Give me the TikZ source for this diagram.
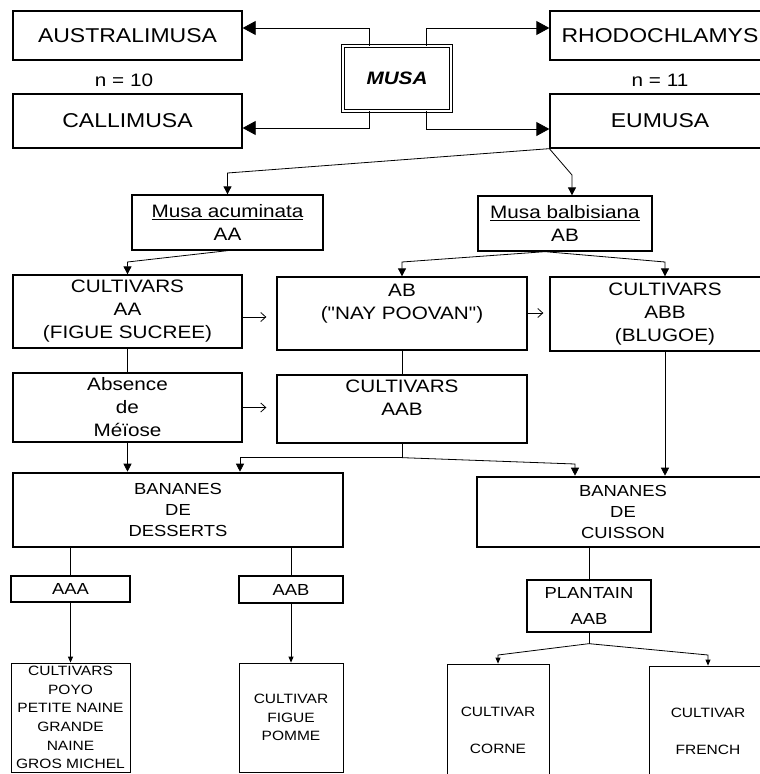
\documentclass[tikz,border=0pt]{standalone}
\usepackage{fontspec}
\setmainfont{Liberation Sans}[FakeStretch=1.15,Ligatures=TeXOff]
\usetikzlibrary{arrows.meta}
\tikzset{
    >=Stealth,
    box/.style={draw,rectangle,line width=1.3pt,inner sep=0pt,align=center,font=\fontsize{18}{23}\selectfont},
    genus/.style={box,font=\fontsize{20}{24}\selectfont},
    heavy/.style={box,line width=2.6pt,font=\fontsize{16}{21}\selectfont},
    slim/.style={box,font=\fontsize{16}{26}\selectfont},
    leaf/.style={box,line width=0.8pt,font=\fontsize{13.5}{18.6}\selectfont},
    link/.style={line width=0.8pt},
    big/.style={link,-{Triangle[length=13pt,width=14pt]}},
    arr/.style={link,-{Triangle[length=8pt,width=8pt]}},
    smallarr/.style={link,-{Triangle[length=6pt,width=5pt]}},
    barb/.style={link,-{Straight Barb[length=5pt,width=9pt]}}
}

\begin{document}
\begin{tikzpicture}[x=1pt,y=-1pt]
  \useasboundingbox (0,0) rectangle (760,774);
  \node[genus,minimum width=229pt,minimum height=49pt] (aus) at (127.5,35.5) {AUSTRALIMUSA};
  \node[genus,minimum width=229pt,minimum height=54pt] (cal) at (127.5,121) {CALLIMUSA};
  \node[genus,minimum width=220pt,minimum height=49pt] (rho) at (660,35.5) {RHODOCHLAMYS};
  \node[genus,minimum width=220pt,minimum height=54pt] (eum) at (660,121) {EUMUSA};
  \node[box,double,double distance=2pt,line width=0.9pt,minimum width=108pt,minimum height=65pt,
        font=\bfseries\itshape\fontsize{18}{22}\selectfont] (musa) at (397,78.5) {MUSA};
  \node[font=\fontsize{18}{22}\selectfont] (n10) at (124,80) {n = 10};
  \node[font=\fontsize{18}{22}\selectfont] (n11) at (660,80) {n = 11};

  \node[box,minimum width=191pt,minimum height=55pt] (acum) at (227.5,222.5) {\underline{Musa acuminata}\\AA};
  \node[box,minimum width=174pt,minimum height=55pt] (balb) at (565,223.5) {\underline{Musa balbisiana}\\AB};

  \node[box,minimum width=229pt,minimum height=73pt] (cultaa) at (127.5,311.5) {CULTIVARS\\AA\\(FIGUE SUCREE)};
  \node[box,minimum width=250pt,minimum height=73pt] (ab) at (402,313.5) {AB\\("NAY POOVAN")\\\mbox{}};
  \node[box,minimum width=230pt,minimum height=74pt] (abb) at (665,314) {CULTIVARS\\ABB\\(BLUGOE)};
  \node[box,minimum width=229pt,minimum height=69pt] (abs) at (127.5,407.5) {Absence\\de\\Méïose};
  \node[box,minimum width=250pt,minimum height=68pt] (aab) at (402,409) {CULTIVARS\\AAB\\\mbox{}};

  \node[heavy,minimum width=330pt,minimum height=74pt] (dess) at (178,510) {BANANES\\DE\\DESSERTS};
  \node[heavy,minimum width=292pt,minimum height=70pt] (cuis) at (623,512) {BANANES\\DE\\CUISSON};

  \node[slim,minimum width=119pt,minimum height=26pt] (aaa) at (70.5,589) {AAA};
  \node[slim,minimum width=104pt,minimum height=27pt] (aabd) at (291,589.5) {AAB};
  \node[slim,minimum width=124pt,minimum height=52pt] (plant) at (589,606) {PLANTAIN\\AAB};

  \node[leaf,minimum width=119pt,minimum height=109pt] (poyo) at (70.5,717.5) {CULTIVARS\\POYO\\PETITE NAINE\\GRANDE\\NAINE\\GROS MICHEL};
  \node[leaf,minimum width=104pt,minimum height=109pt] (figue) at (291,717.5) {CULTIVAR\\FIGUE\\POMME};
  \node[leaf,minimum width=102pt,minimum height=132pt] (corne) at (498,730) {CULTIVAR\\\mbox{}\\CORNE};
  \node[leaf,minimum width=118pt,minimum height=130pt] (french) at (708,731) {CULTIVAR\\\mbox{}\\FRENCH};

  \draw[big] ([xshift=27pt]musa.north west) |- ([yshift=7.5pt]aus.east);
  \draw[big] ([xshift=27pt]musa.south west) |- ([yshift=-7pt]cal.east);
  \draw[big] ([xshift=-25pt]musa.north east) |- ([yshift=7.5pt]rho.west);
  \draw[big] ([xshift=-25pt]musa.south east) |- ([yshift=-8pt]eum.west);

  \draw[arr] (eum.south west) -- (acum.north |- 0,173) -- (acum.north);
  \draw[arr] (eum.south west) -- (572,175) -- ([xshift=7pt]balb.north);
  \draw[arr] (acum.south) -- (cultaa.north |- 0,262) -- (cultaa.north);
  \draw[arr] ([xshift=-20pt]balb.south) -- (ab.north |- 0,262) -- (ab.north);
  \draw[arr] ([xshift=-20pt]balb.south) -- (abb.north |- 0,262) -- (abb.north);

  \draw[barb,shorten >=10pt] (cultaa.east |- 0,317) -- (ab.west |- 0,317);
  \draw[barb,shorten >=6pt] (ab.east |- 0,313) -- (abb.west |- 0,313);
  \draw[link] (cultaa.south) -- (abs.north);
  \draw[link] (ab.south) -- (aab.north);
  \draw[barb,shorten >=10pt] (abs.east) -- (aab.west |- abs.east);

  \draw[arr] (abs.south) -- (abs.south |- dess.north);
  \draw[link] (aab.south) -- ++(0,14) coordinate (split);
  \draw[arr] (split) -| (240,0 |- dess.north);
  \draw[arr] (split) -- (575,464) -- (575,0 |- cuis.north);
  \draw[arr] (abb.south) -- (abb.south |- cuis.north);

  \draw[link] (aaa.north |- dess.south) -- (aaa.north);
  \draw[link] (aabd.north |- dess.south) -- (aabd.north);
  \draw[link] (plant.north |- cuis.south) -- (plant.north);
  \draw[smallarr] (aaa.south) -- (poyo.north);
  \draw[smallarr] (aabd.south) -- (figue.north);
  \draw[link] (plant.south) -- ++(0,11) coordinate (fork);
  \draw[smallarr] (fork) -- (corne.north |- 0,655) -- (corne.north);
  \draw[smallarr] (fork) -- (french.north |- 0,655) -- (french.north);
\end{tikzpicture}
\end{document}
